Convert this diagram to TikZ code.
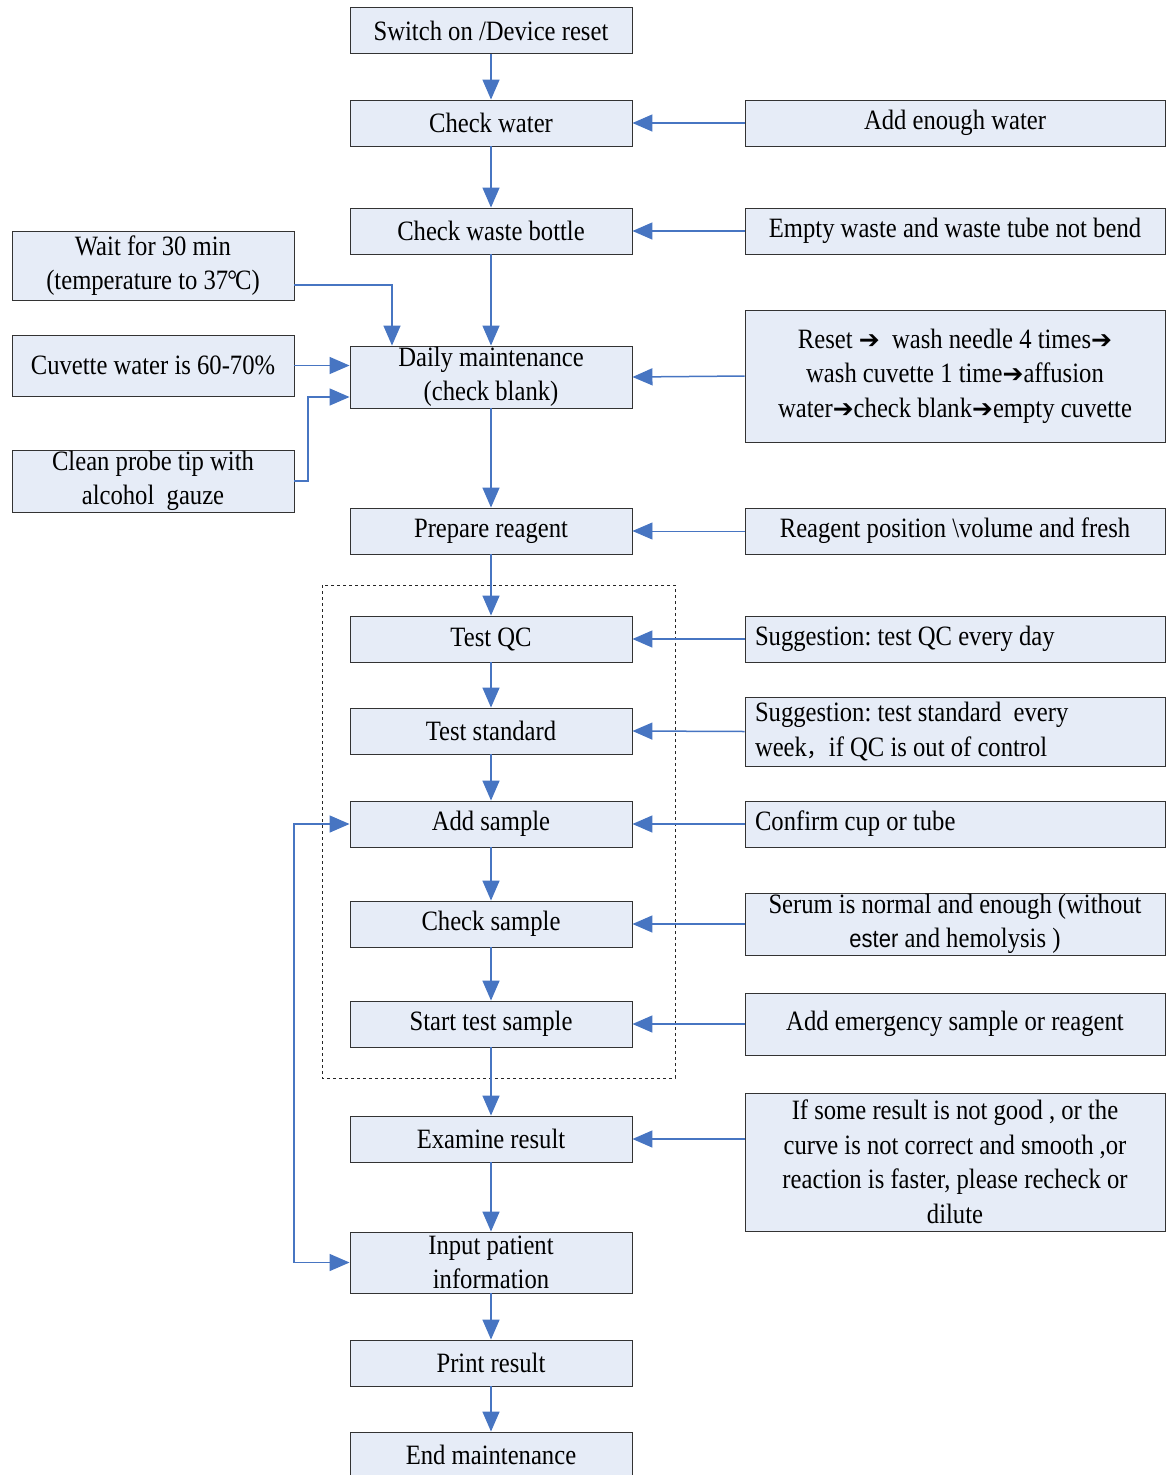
\documentclass[tikz,border=0pt]{standalone}
\usepackage{fontspec}
\setmainfont{Liberation Serif}[FakeStretch=0.88]
\newfontfamily\symfont{DejaVu Sans}
\newfontfamily\sansfnt{Liberation Sans}[FakeStretch=0.88]
\newfontfamily\cjkfnt{Noto Sans CJK SC}
\usetikzlibrary{arrows.meta}
\definecolor{boxfill}{HTML}{E6ECF7}
\definecolor{arrowblue}{HTML}{4775C2}
\definecolor{boxline}{HTML}{333333}
\newcommand{\ra}{{\symfont\fontsize{25}{25}\selectfont ➔}}
\newcommand{\lline}[1]{\makebox[400pt][l]{#1}}
\tikzset{
  box/.style={draw=boxline, fill=boxfill, line width=0.9pt, inner sep=0pt,
    font=\fontsize{28}{34.5}\selectfont\frenchspacing, align=center},
  mainbox/.style={box, minimum width=282pt, minimum height=46pt},
  rbox/.style={box, minimum width=420pt},
  lbox/.style={box, minimum width=282pt},
  flow/.style={draw=arrowblue, line width=1.5pt, -{Triangle[length=20pt,width=17pt]}},
  thinflow/.style={draw=arrowblue, line width=0.8pt, -{Triangle[length=20pt,width=17pt]}},
  loopflow/.style={draw=arrowblue, line width=1.5pt, {Triangle[length=20pt,width=17pt]}-{Triangle[length=20pt,width=17pt]}},
  group/.style={draw=black!85, dashed, line width=0.8pt}
}
\begin{document}
\begin{tikzpicture}[x=1pt,y=-1pt]
\useasboundingbox (0,0) rectangle (1165,1475);
% dashed group
\draw[group] (322,585) rectangle (675,1078);
% main column
\node[mainbox] (sw) at (491,30.5) {Switch on /Device reset};
\node[mainbox] (cw) at (491,123) {Check water};
\node[mainbox] (cwb) at (491,231) {Check waste bottle};
\node[mainbox, minimum height=62pt] (dm) at (491,377) {Daily maintenance\\(check blank)};
\node[mainbox] (pr) at (491,531) {Prepare reagent};
\node[mainbox] (qc) at (491,639) {Test QC};
\node[mainbox] (ts) at (491,731) {Test standard};
\node[mainbox] (as) at (491,824) {Add sample};
\node[mainbox] (cs) at (491,924) {Check sample};
\node[mainbox] (st) at (491,1024) {Start test sample};
\node[mainbox] (er) at (491,1139) {Examine result};
\node[mainbox, minimum height=61pt] (ip) at (491,1262.5) {Input patient\\information};
\node[mainbox] (prr) at (491,1363) {Print result};
\node[mainbox] (em) at (491,1455) {End maintenance};
% right column
\node[rbox, minimum height=46pt] (aw) at (955,123) {Add enough water};
\node[rbox, minimum height=46pt] (ew) at (955,231) {Empty waste and waste tube not bend};
\node[rbox, minimum height=132pt] (rs) at (955,376) {Reset \ra\ \ wash needle 4 times\ra\\wash cuvette 1 time\ra affusion\\water\ra check blank\ra empty cuvette};
\node[rbox, minimum height=46pt] (rp) at (955,531) {Reagent position \textbackslash volume and fresh};
\node[rbox, minimum height=46pt] (sq) at (955,639) {\lline{Suggestion: test QC every day}};
\node[rbox, minimum height=69pt] (ss) at (955,731.5) {\lline{Suggestion: test standard\ \ every}\\\lline{week{\cjkfnt\fontsize{22}{34}\selectfont ，}if QC is out of control}};
\node[rbox, minimum height=46pt] (cc) at (955,824) {\lline{Confirm cup or tube}};
\node[rbox, minimum height=62pt] (sn) at (955,924) {Serum is normal and enough (without\\{\sansfnt\fontsize{25}{34}\selectfont ester} and hemolysis )};
\node[rbox, minimum height=62pt] (ae) at (955,1024) {Add emergency sample or reagent};
\node[rbox, minimum height=138pt] (ir) at (955,1162) {If some result is not good , or the\\curve is not correct and smooth ,or\\reaction is faster, please recheck or\\dilute};
% left column
\node[lbox, minimum height=69pt] (wt) at (153,265.5) {Wait for 30 min\\(temperature to 37\kern-1pt°\kern-2ptC)};
\node[lbox, minimum height=61pt] (cv) at (153,365.5) {Cuvette water is 60-70\%};
\node[lbox, minimum height=62pt] (cp) at (153,481) {Clean probe tip with\\alcohol\ \ gauze};
% main flow
\draw[flow] (sw) -- (cw);
\draw[flow] (cw) -- (cwb);
\draw[flow] (cwb) -- (dm);
\draw[flow] (dm) -- (pr);
\draw[flow] (pr) -- (qc);
\draw[flow] (qc) -- (ts);
\draw[flow] (ts) -- (as);
\draw[flow] (as) -- (cs);
\draw[flow] (cs) -- (st);
\draw[flow] (st) -- (er);
\draw[flow] (er) -- (ip);
\draw[flow] (ip) -- (prr);
\draw[flow] (prr) -- (em);
% right inputs
\draw[flow] (aw.west) -- (cw.east);
\draw[flow] (ew.west) -- (cwb.east);
\draw[flow] (rs.west) -- (dm.east);
\draw[thinflow] (rp.west) -- (pr.east);
\draw[flow] (sq.west) -- (qc.east);
\draw[flow] (ss.west) -- (ts.east);
\draw[flow] (cc.west) -- (as.east);
\draw[flow] (sn.west) -- (cs.east);
\draw[flow] (ae.west) -- (st.east);
\draw[flow] (ir.west |- er.east) -- (er.east);
% left inputs
\coordinate (wtc) at (392,285);
\draw[flow] (wt.east |- wtc) -- (wtc) -- (wtc |- dm.north);
\draw[flow] (cv.east) -- (cv.east -| dm.west);
\coordinate (cpa) at (308,481);
\coordinate (cpb) at (308,397);
\draw[flow] (cp.east) -- (cpa) -- (cpb) -- (cpb -| dm.west);
% loop
\coordinate (lpa) at (294,1262.5);
\coordinate (lpb) at (294,824);
\draw[loopflow] (ip.west) -- (lpa) -- (lpb) -- (as.west);
\end{tikzpicture}
\end{document}
